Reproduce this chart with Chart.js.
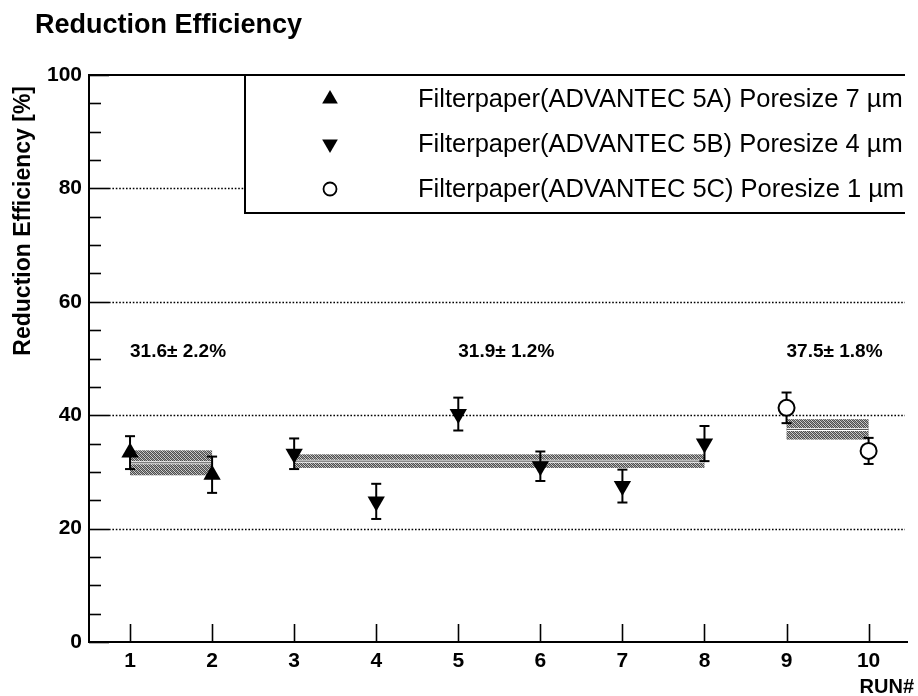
<!DOCTYPE html>
<html>
<head>
<meta charset="utf-8">
<script src="https://cdn.jsdelivr.net/npm/chart.js@4/dist/chart.umd.min.js"></script>
<style>
  html, body { margin: 0; padding: 0; background: #fff; }
  canvas { display: block; }
</style>
</head>
<body>
<canvas id="chart" width="918" height="696"></canvas>
<script>
// ---- data -------------------------------------------------------------
const runs       = [1, 2, 3, 4, 5, 6, 7, 8, 9, 10];
const efficiency = [33.4, 29.5, 33.2, 24.8, 40.2, 31.0, 27.5, 35.0, 41.3, 33.7];
const errors     = [2.9, 3.2, 2.7, 3.1, 2.9, 2.6, 2.9, 3.1, 2.7, 2.3];
const paperType  = ['5A', '5A', '5B', '5B', '5B', '5B', '5B', '5B', '5C', '5C'];

const paperKeys   = ['5A', '5B', '5C'];
const paperLabels = [
  'Filterpaper(ADVANTEC 5A) Poresize 7 \u00b5m',
  'Filterpaper(ADVANTEC 5B) Poresize 4 \u00b5m',
  'Filterpaper(ADVANTEC 5C) Poresize 1 \u00b5m'
];
const groupFirstRun = [1, 3, 9];
const groupLastRun  = [2, 8, 10];
const groupMean     = [31.6, 31.9, 37.5];
const groupErr      = [2.2, 1.2, 1.8];
const groupLabelRun = [1, 5, 9];

const yTickValues = [0, 20, 40, 60, 80, 100];
const yMinorStep  = 5;

// ---- styling ------------------------------------------------------------
const FONT = '"Liberation Sans", Arial, Helvetica, sans-serif';
const markerStyles = [
  { pointStyle: 'triangle', rotation: 0,   radius: 10, fill: '#000', border: 0 },
  { pointStyle: 'triangle', rotation: 180, radius: 10, fill: '#000', border: 0 },
  { pointStyle: 'circle',   rotation: 0,   radius: 8,  fill: '#fff', border: 2 }
];

function makeBandPattern(ctx) {
  const c = document.createElement('canvas');
  c.width = 4; c.height = 4;
  const g = c.getContext('2d');
  for (let x = 0; x < 4; x++) {
    for (let y = 0; y < 4; y++) {
      g.fillStyle = ((x + y) % 2 === 0) ? '#4e4e4e' : ((x - y + 4) % 4 === 1 ? '#9a9a9a' : '#d0d0d0');
      g.fillRect(x, y, 1, 1);
    }
  }
  return ctx.createPattern(c, 'repeat');
}

function line(ctx, x0, y0, x1, y1) {
  ctx.beginPath(); ctx.moveTo(x0, y0); ctx.lineTo(x1, y1); ctx.stroke();
}

const datasets = paperKeys.map((key, k) => {
  const st = markerStyles[k];
  const pts = [];
  runs.forEach((r, i) => { if (paperType[i] === key) pts.push({ x: r, y: efficiency[i] }); });
  return {
    label: paperLabels[k],
    data: pts,
    showLine: false,
    pointStyle: st.pointStyle,
    rotation: st.rotation,
    pointRadius: st.radius,
    backgroundColor: st.fill,
    borderColor: '#000',
    borderWidth: st.border
  };
});

// ---- custom drawing: frame, ticks, grid, bands, error bars, texts --------
const decorations = {
  id: 'decorations',
  beforeDatasetsDraw(chart) {
    const { ctx, chartArea: a, scales: { x: xs, y: ys } } = chart;
    ctx.save();

    // dotted horizontal grid
    ctx.strokeStyle = '#000';
    ctx.lineWidth = 1.6;
    ctx.setLineDash([1.6, 1.8]);
    yTickValues.filter(v => v > 0 && v < 100).forEach(v => {
      const y = Math.round(ys.getPixelForValue(v)) + 0.5;
      line(ctx, a.left + 20, y, a.right - 3, y);
    });
    ctx.setLineDash([]);

    // bands: group mean +/- error
    const pattern = makeBandPattern(ctx);
    groupMean.forEach((m, i) => {
      const x0 = xs.getPixelForValue(groupFirstRun[i]);
      const x1 = xs.getPixelForValue(groupLastRun[i]);
      const yt = ys.getPixelForValue(m + groupErr[i]);
      const yb = ys.getPixelForValue(m - groupErr[i]);
      const ym = ys.getPixelForValue(m);
      ctx.fillStyle = pattern;
      ctx.fillRect(x0, yt, x1 - x0, yb - yt);
      ctx.strokeStyle = '#fff'; ctx.lineWidth = 3;
      line(ctx, x0, ym, x1, ym);
      ctx.strokeStyle = '#444'; ctx.lineWidth = 1;
      line(ctx, x0, ym, x1, ym);
    });

    // error bars
    ctx.strokeStyle = '#000';
    ctx.lineWidth = 2;
    runs.forEach((r, i) => {
      const x = xs.getPixelForValue(r);
      const yh = ys.getPixelForValue(efficiency[i] + errors[i]);
      const yl = ys.getPixelForValue(efficiency[i] - errors[i]);
      line(ctx, x, yh, x, yl);
      line(ctx, x - 5, yh, x + 5, yh);
      line(ctx, x - 5, yl, x + 5, yl);
    });

    // ticks (inward)
    ctx.lineWidth = 1.6;
    for (let v = 0; v <= 100; v += yMinorStep) {
      const y = Math.round(ys.getPixelForValue(v)) + 0.5;
      const len = yTickValues.includes(v) ? 20 : 12;
      line(ctx, a.left, y, a.left + len, y);
    }
    runs.forEach(r => {
      const x = Math.round(xs.getPixelForValue(r)) + 0.5;
      line(ctx, x, a.bottom, x, a.bottom - 18);
    });

    // frame
    ctx.lineWidth = 2;
    line(ctx, a.left, a.top, a.left, a.bottom + 1);
    line(ctx, a.left - 1, a.bottom, a.right, a.bottom);
    line(ctx, a.left - 1, a.top, a.right - 3, a.top);
    ctx.restore();
  },
  afterDatasetsDraw(chart) {
    const { ctx, chartArea: a, scales: { x: xs, y: ys } } = chart;
    ctx.save();
    ctx.fillStyle = '#000';

    // group summaries
    ctx.font = 'bold 19px ' + FONT;
    ctx.textAlign = 'left';
    ctx.textBaseline = 'middle';
    groupMean.forEach((m, i) => {
      const label = m.toFixed(1) + '\u00b1 ' + groupErr[i].toFixed(1) + '%';
      ctx.fillText(label, xs.getPixelForValue(groupLabelRun[i]), ys.getPixelForValue(51.1));
    });

    // legend
    const lx0 = 245, ly1 = 213, lx1 = a.right - 3;
    ctx.fillStyle = '#fff';
    ctx.fillRect(lx0, a.top + 1, lx1 - lx0 + 3, ly1 - a.top - 1);
    ctx.strokeStyle = '#000';
    ctx.lineWidth = 2;
    ctx.beginPath();
    ctx.moveTo(lx0, a.top); ctx.lineTo(lx0, ly1); ctx.lineTo(lx1, ly1);
    ctx.stroke();
    ctx.font = '25.5px ' + FONT;
    ctx.textAlign = 'left';
    ctx.textBaseline = 'middle';
    const rowY = [99, 144, 189];
    chart.data.datasets.forEach((ds, k) => {
      const y = rowY[k];
      const mx = 330;
      const st = markerStyles[k];
      ctx.fillStyle = '#000';
      if (st.pointStyle === 'triangle') {
        const r = 9, dir = st.rotation === 0 ? 1 : -1;
        ctx.beginPath();
        ctx.moveTo(mx, y - dir * r);
        ctx.lineTo(mx + r * 0.87, y + dir * r * 0.5);
        ctx.lineTo(mx - r * 0.87, y + dir * r * 0.5);
        ctx.closePath();
        ctx.fill();
      } else {
        ctx.lineWidth = 1.8;
        ctx.beginPath();
        ctx.arc(mx, y, 6.5, 0, Math.PI * 2);
        ctx.stroke();
      }
      ctx.fillStyle = '#000';
      ctx.fillText(ds.label, 418, y + 1);
    });

    // titles
    ctx.font = 'bold 27px ' + FONT;
    ctx.textAlign = 'left';
    ctx.textBaseline = 'alphabetic';
    ctx.fillText('Reduction Efficiency', 35, 33);

    ctx.font = 'bold 20px ' + FONT;
    ctx.textAlign = 'right';
    ctx.fillText('RUN#', 914, 693);

    ctx.save();
    ctx.translate(30, 86);
    ctx.rotate(-Math.PI / 2);
    ctx.font = 'bold 23px ' + FONT;
    ctx.textAlign = 'right';
    ctx.textBaseline = 'alphabetic';
    ctx.fillText('Reduction Efficiency [%]', 0, 0);
    ctx.restore();

    ctx.restore();
  }
};

new Chart(document.getElementById('chart'), {
  type: 'scatter',
  data: { datasets },
  options: {
    responsive: false,
    animation: false,
    events: [],
    layout: { padding: { top: 75, left: 0, right: 0, bottom: 0 } },
    plugins: { legend: { display: false }, tooltip: { enabled: false }, title: { display: false } },
    scales: {
      x: {
        type: 'linear',
        min: 0.5,
        max: 10.48,
        afterBuildTicks: s => { s.ticks = runs.map(v => ({ value: v })); },
        afterFit: s => { s.height = 54; },
        grid: { display: false, drawTicks: false },
        border: { display: false },
        ticks: {
          autoSkip: false, maxRotation: 0, padding: 7, color: '#000',
          font: { family: FONT, size: 21, weight: 'bold' }
        }
      },
      y: {
        type: 'linear',
        min: 0,
        max: 100,
        afterBuildTicks: s => { s.ticks = yTickValues.map(v => ({ value: v })); },
        afterFit: s => { s.width = 89; },
        grid: { display: false, drawTicks: false },
        border: { display: false },
        ticks: {
          padding: 7, color: '#000',
          font: { family: FONT, size: 21, weight: 'bold' }
        }
      }
    }
  },
  plugins: [decorations]
});
</script>
</body>
</html>
